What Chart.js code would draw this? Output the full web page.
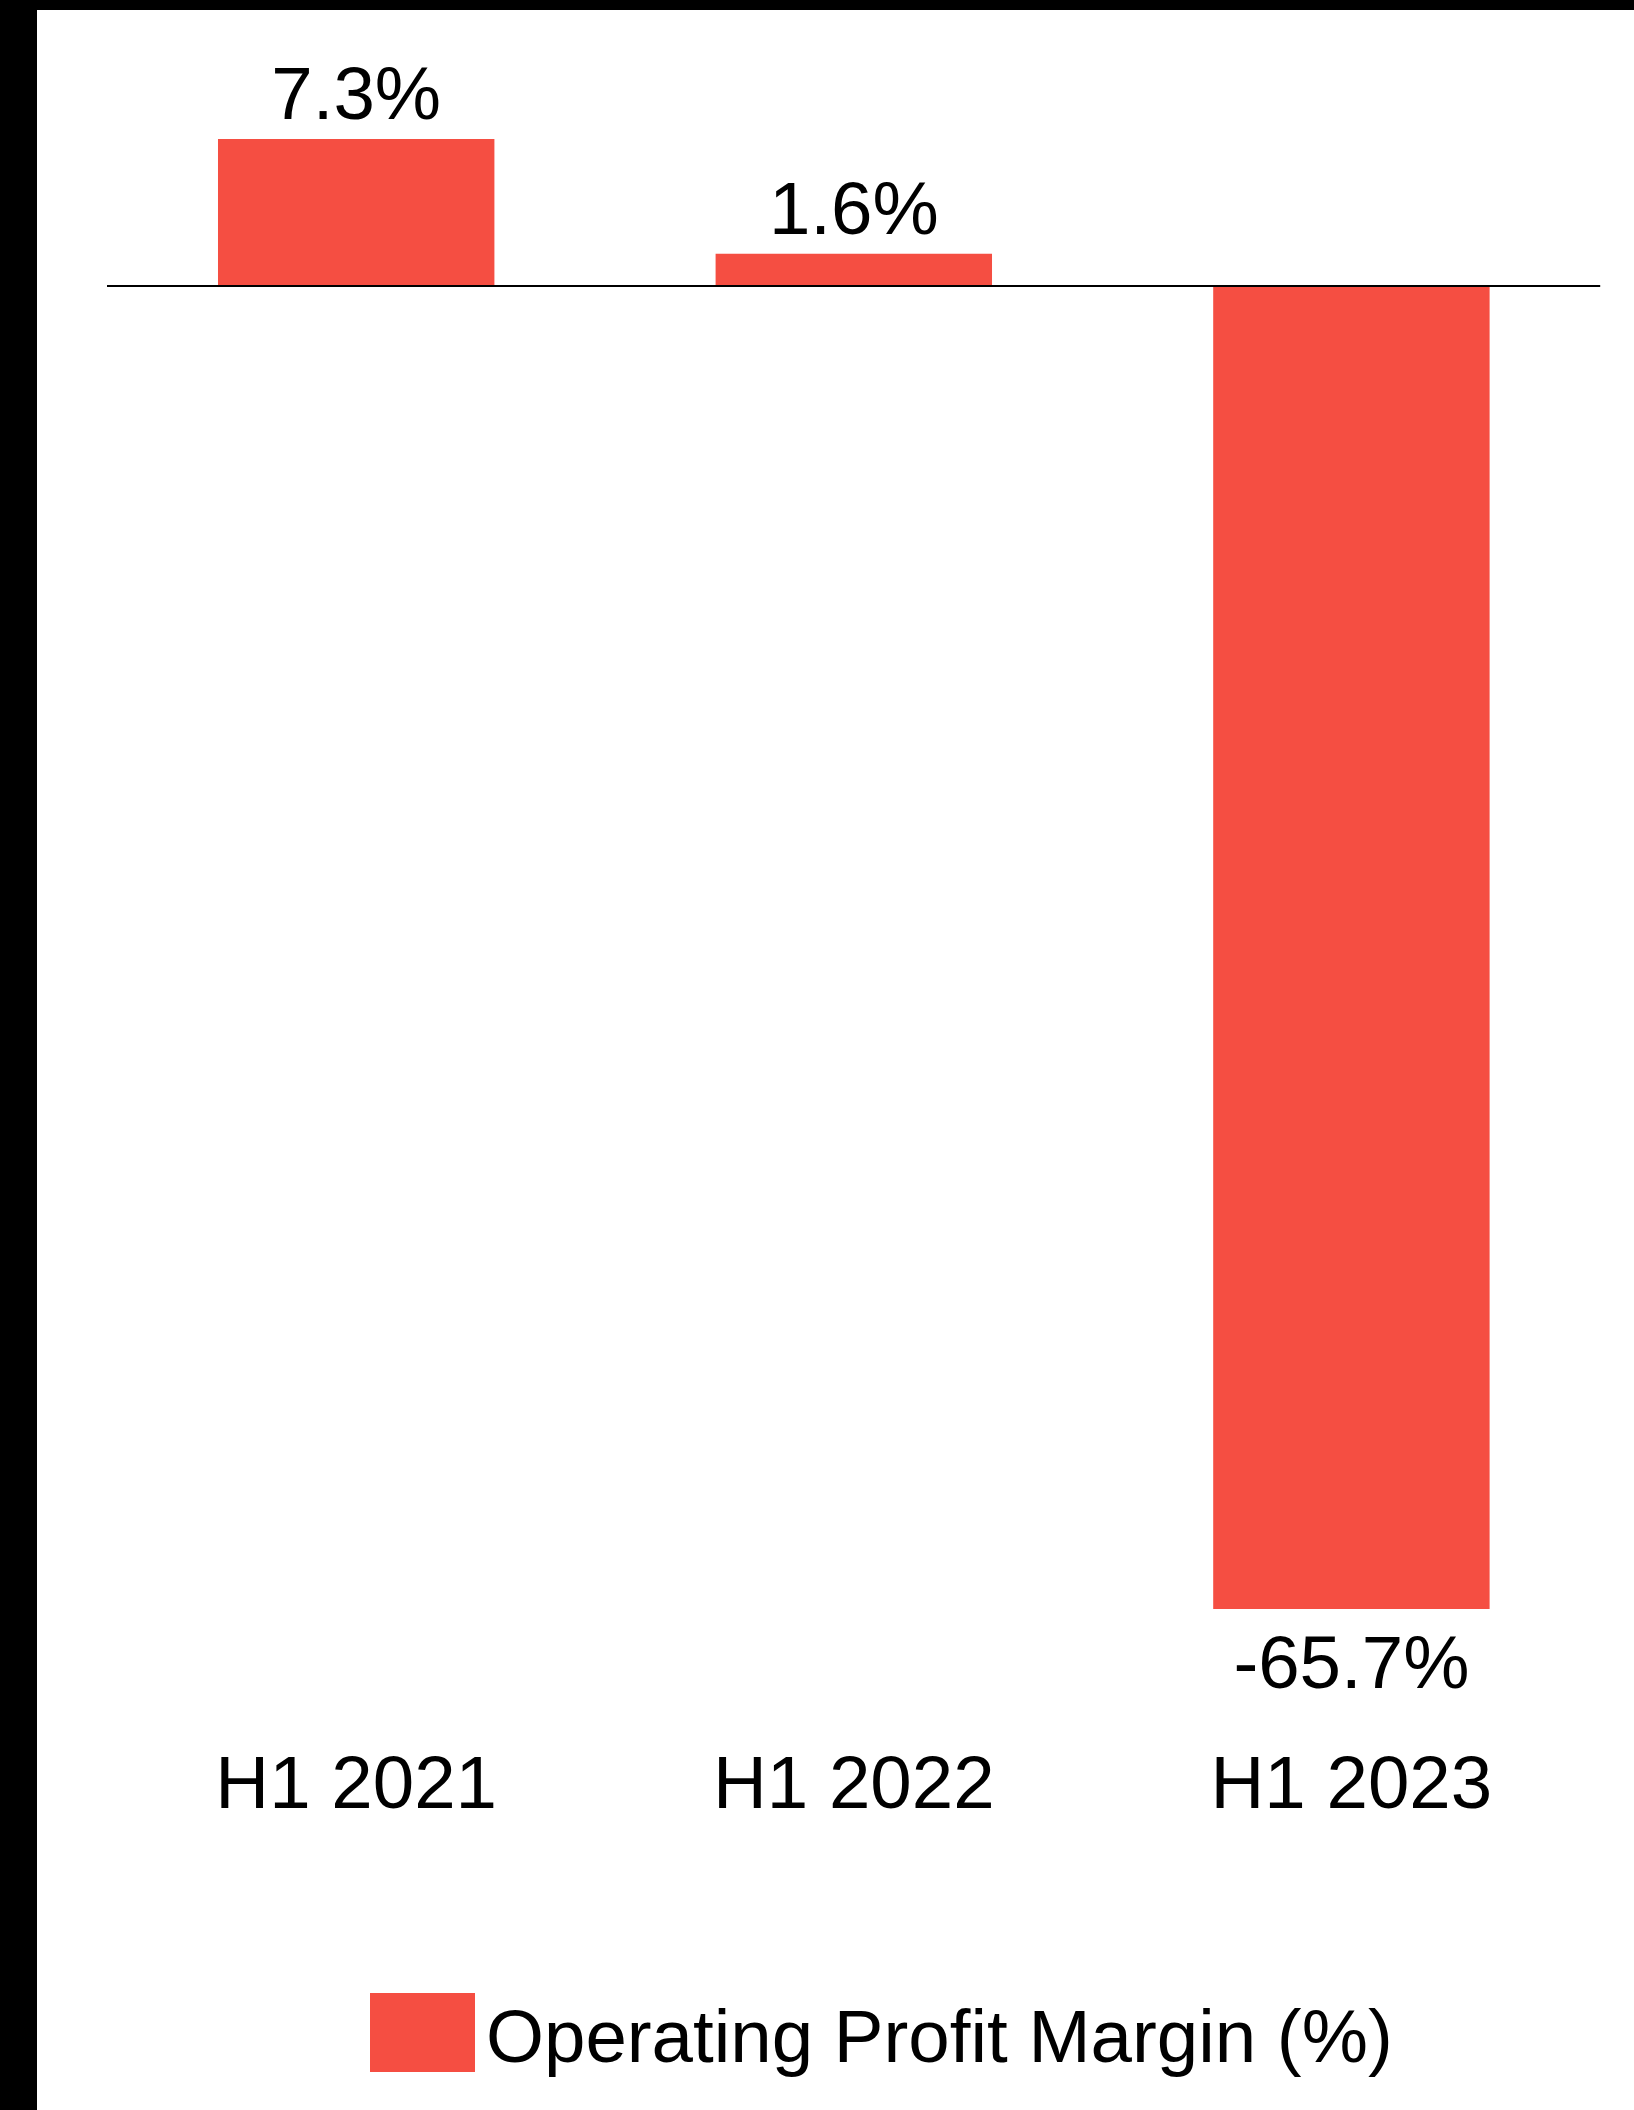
<!DOCTYPE html>
<html>
<head>
<meta charset="utf-8">
<title>Operating Profit Margin</title>
<script src="https://cdn.jsdelivr.net/npm/chart.js@4.4.1/dist/chart.umd.min.js"></script>
<style>
  html, body { margin: 0; padding: 0; background: #000; }
  body { width: 1634px; height: 2110px; position: relative; overflow: hidden; }
  #frame { position: absolute; left: 37px; top: 10px; width: 1597px; height: 2100px; background: #fff; }
  canvas { display: block; }
</style>
</head>
<body>
<div id="frame"><canvas id="chart" width="1597" height="2100"></canvas></div>
<script>
// Half-year periods and operating profit margin (%)
const periods = ['H1 2021', 'H1 2022', 'H1 2023'];
const marginValues = [7.3, 1.6, -65.7];
const seriesLabel = 'Operating Profit Margin (%)';
const barColor = '#F54E42';
const yMin = -70;
const yMax = 10;

const FONT = "'Liberation Sans', Arial, sans-serif";
const FONT_SIZE = 74.5;

// Prints each bar's value just beyond its end
const valueLabels = {
  id: 'valueLabels',
  afterDatasetsDraw(chart) {
    const ctx = chart.ctx;
    const meta = chart.getDatasetMeta(0);
    const values = chart.data.datasets[0].data;
    ctx.save();
    ctx.font = FONT_SIZE + 'px ' + FONT;
    ctx.fillStyle = '#000';
    ctx.textAlign = 'center';
    ctx.textBaseline = 'alphabetic';
    meta.data.forEach((bar, i) => {
      const v = values[i];
      const text = v.toFixed(1) + '%';
      if (v >= 0) {
        ctx.fillText(text, bar.x, bar.y - 20);
      } else {
        ctx.fillText(text, bar.x, bar.y + 79);
      }
    });
    ctx.restore();
  }
};

// Legend row under the axis: colour swatch plus series name
const legendRow = {
  id: 'legendRow',
  afterDraw(chart) {
    const ctx = chart.ctx;
    const ds = chart.data.datasets[0];
    const boxX = 333, boxY = 1983, boxW = 105, boxH = 79;
    ctx.save();
    ctx.fillStyle = ds.backgroundColor;
    ctx.fillRect(boxX, boxY, boxW, boxH);
    ctx.font = FONT_SIZE + 'px ' + FONT;
    ctx.fillStyle = '#000';
    ctx.textAlign = 'left';
    ctx.textBaseline = 'alphabetic';
    ctx.fillText(ds.label, boxX + boxW + 11, 2052);
    ctx.restore();
  }
};

new Chart(document.getElementById('chart'), {
  type: 'bar',
  data: {
    labels: periods,
    datasets: [{
      label: seriesLabel,
      data: marginValues,
      backgroundColor: barColor,
      borderWidth: 0,
      categoryPercentage: 1,
      barPercentage: 0.5555
    }]
  },
  options: {
    responsive: false,
    devicePixelRatio: 1,
    animation: false,
    layout: {
      padding: { top: 74.7, left: 70.4, right: 33.8, bottom: 231 }
    },
    plugins: {
      legend: { display: false },
      tooltip: { enabled: false }
    },
    scales: {
      x: {
        grid: { display: false, drawTicks: false },
        border: { display: false },
        ticks: {
          color: '#000',
          padding: 47,
          font: { family: FONT, size: FONT_SIZE }
        }
      },
      y: {
        min: yMin,
        max: yMax,
        z: 1,
        border: { display: false },
        ticks: { display: false, stepSize: 10 },
        grid: {
          drawTicks: false,
          lineWidth: 2,
          color: (c) => (c.tick && c.tick.value === 0 ? '#000' : 'rgba(0,0,0,0)')
        }
      }
    }
  },
  plugins: [valueLabels, legendRow]
});
</script>
</body>
</html>
